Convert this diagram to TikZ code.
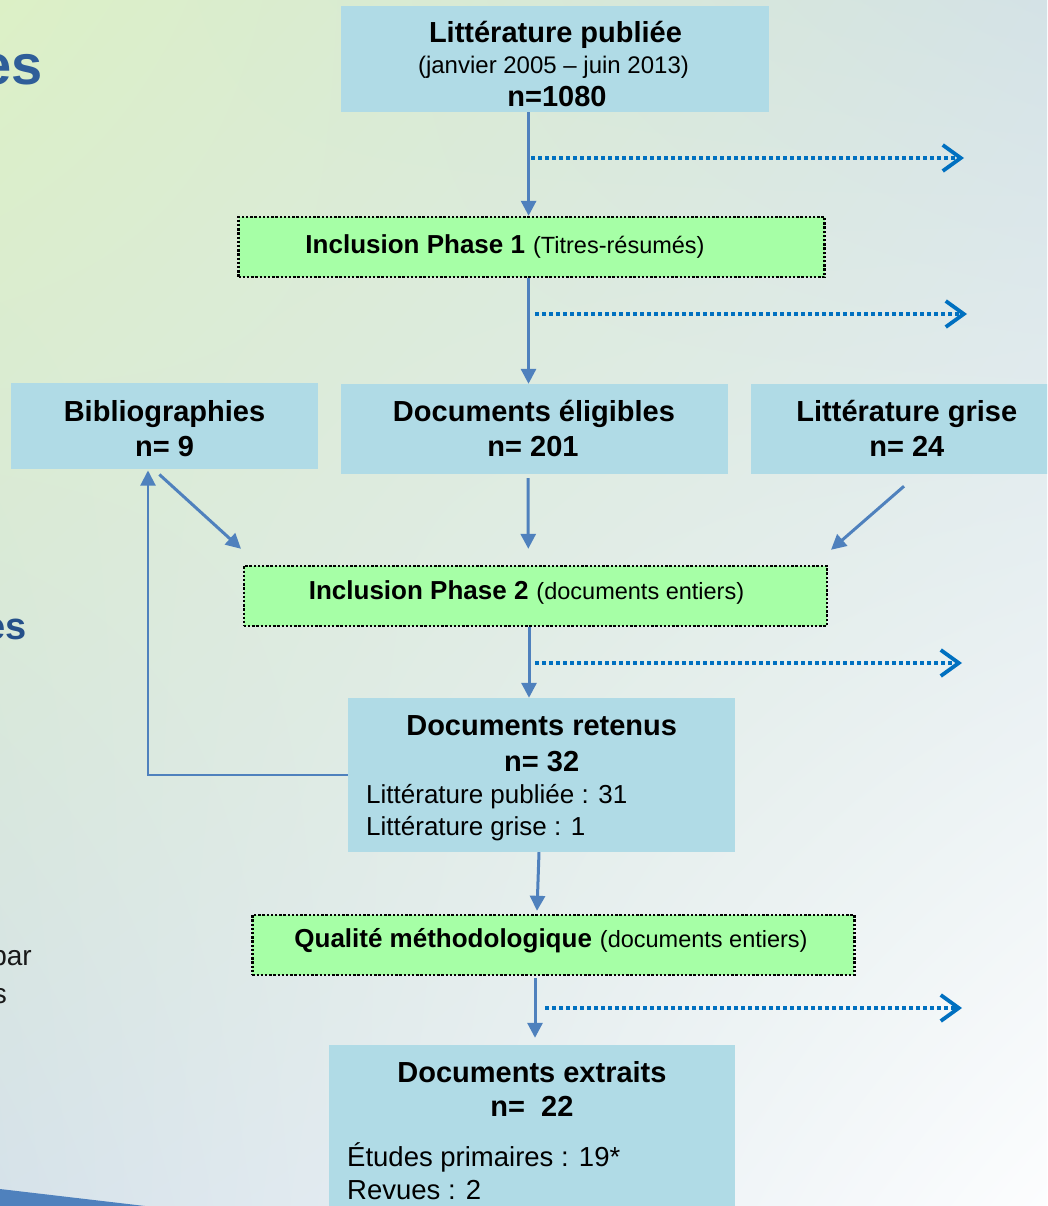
\documentclass[tikz,border=0pt]{standalone}
\usepackage{fontspec}
\setmainfont{Liberation Sans}
\usetikzlibrary{arrows.meta,shadings}
\definecolor{boxblue}{RGB}{176,219,230}
\definecolor{boxgreen}{RGB}{166,255,166}
\definecolor{arrblue}{RGB}{79,129,189}
\definecolor{dotblue}{RGB}{0,112,192}
\definecolor{titleblue}{RGB}{47,94,153}
\definecolor{titleblueb}{RGB}{37,80,138}
\definecolor{bgUL}{RGB}{220,240,198}
\definecolor{bgUR}{RGB}{212,226,230}
\definecolor{bgLL}{RGB}{214,226,234}
\definecolor{bgLR}{RGB}{252,253,254}
\tikzset{
  bluebox/.style={fill=boxblue, draw=none, inner sep=0pt, rectangle},
  greenbox/.style={fill=boxgreen, draw=black, line width=2.4pt, dash pattern=on 2.4pt off 1.8pt, inner sep=0pt, rectangle},
  bigb/.style={font=\fontsize{29}{34}\selectfont\bfseries, inner sep=0pt, anchor=base},
  small/.style={font=\fontsize{24}{28}\selectfont, inner sep=0pt, anchor=base},
  body/.style={font=\fontsize{26}{31}\selectfont, inner sep=0pt, anchor=base west},
  flow/.style={draw=arrblue, line width=3pt, -{Triangle[length=15pt,width=15pt]}},
  back/.style={draw=arrblue, line width=2pt, -{Triangle[length=15pt,width=15pt]}},
  excl/.style={draw=dotblue, line width=3.8pt, dash pattern=on 4.3pt off 2.7pt,
    -{Straight Barb[length=18pt,width=26pt,line width=3.8pt]}},
}
\newcommand{\phb}{\fontsize{26}{31}\selectfont\bfseries}
\newcommand{\phs}{\fontsize{23.5}{28}\selectfont\mdseries}
\begin{document}
\begin{tikzpicture}[x=1pt,y=-1pt]
\useasboundingbox (0,0) rectangle (1047,1206);
\clip (0,0) rectangle (1047,1206);
% background
\shade[upper left=bgUL, upper right=bgUR, lower left=bgLL, lower right=bgLR] (0,0) rectangle (1047,1206);
\fill[arrblue] (0,1189) -- (145,1206) -- (0,1206) -- cycle;
% cut-off left texts
\node[font=\fontsize{56}{60}\selectfont\bfseries, text=titleblue, inner sep=0pt, anchor=base east] (t1) at (43,85) {es};
\node[font=\fontsize{38}{42}\selectfont\bfseries, text=titleblueb, inner sep=0pt, anchor=base east] (t2) at (27,639) {es};
\node[font=\fontsize{28}{32}\selectfont, text=black!90, inner sep=0pt, anchor=base east] (t3) at (32,965) {par};
\node[font=\fontsize{28}{32}\selectfont, text=black!90, inner sep=0pt, anchor=base east] (t4) at (7,1003) {s};
% boxes
\node[bluebox, minimum width=428, minimum height=106] (lp) at (555,59) {};
\node[greenbox, minimum width=586, minimum height=60] (ph1) at (531.5,247) {};
\node[bluebox, minimum width=307, minimum height=86] (bib) at (164.4,426) {};
\node[bluebox, minimum width=387, minimum height=90] (de) at (534,429) {};
\node[bluebox, minimum width=311, minimum height=90] (lg) at (906.5,429) {};
\node[greenbox, minimum width=583, minimum height=60] (ph2) at (535.3,596) {};
\node[bluebox, minimum width=387, minimum height=154] (dr) at (541.5,775) {};
\node[greenbox, minimum width=602, minimum height=60] (qm) at (553.3,945) {};
\node[bluebox, minimum width=406, minimum height=170] (dx) at (532,1130) {};
% texts
\node[bigb] (lpa) at (555.5,43) {Littérature publiée};
\node[small] (lpb) at (553.5,74) {(janvier 2005 – juin 2013)};
\node[bigb] (lpc) at (557,107) {n=1080};
\node[inner sep=0pt, anchor=base] (ph1t) at (505,253) {{\phb Inclusion Phase 1}\hspace{8pt}{\phs (Titres-résumés)}};
\node[bigb] (biba) at (164.5,421.7) {Bibliographies};
\node[bigb] (bibb) at (164.5,456.7) {n= 9};
\node[bigb] (dea) at (534,421.7) {Documents éligibles};
\node[bigb] (deb) at (533,456.7) {n= 201};
\node[bigb] (lga) at (906.8,421.7) {Littérature grise};
\node[bigb] (lgb) at (906.8,456.7) {n= 24};
\node[inner sep=0pt, anchor=base] (ph2t) at (526.5,599) {{\phb Inclusion Phase 2}\hspace{8pt}{\phs (documents entiers)}};
\node[bigb] (dra) at (541.7,735.5) {Documents retenus};
\node[bigb] (drb) at (541.7,771) {n= 32};
\node[body] (drc) at (366,803) {Littérature publiée : 31};
\node[body] (drd) at (366,835.7) {Littérature grise : 1};
\node[inner sep=0pt, anchor=base] (qmt) at (551,947) {{\phb Qualité méthodologique}\hspace{8pt}{\phs (documents entiers)}};
\node[bigb] (dxa) at (532,1082.7) {Documents extraits};
\node[bigb] (dxb) at (532,1116.7) {n=~~22};
\node[body, font=\fontsize{27.5}{32}\selectfont] (dxc) at (347,1166) {Études primaires : 19*};
\node[body, font=\fontsize{27.5}{32}\selectfont] (dxd) at (347,1199) {Revues : 2};
% flow arrows
\draw[flow] ([xshift=-26.4]lp.south) -- ([xshift=-26.4]lp.south |- ph1.north);
\draw[flow] ([xshift=-3]ph1.south) -- ([xshift=-5.5]de.north);
\draw[flow] ([xshift=-6,yshift=-4]de.south) -- ([xshift=-7,yshift=16]ph2.north);
\draw[flow] ([xshift=-5,yshift=-5.3]bib.south) -- ([xshift=-1.6,yshift=16]ph2.north west);
\draw[flow] ([xshift=-2.5,yshift=-12]lg.south) -- ([xshift=3,yshift=15]ph2.north east);
\draw[flow] ([xshift=-6.3]ph2.south) -- ([xshift=-12.5]dr.north);
\draw[flow] ([xshift=-2.5]dr.south) -- ([xshift=-16.3,yshift=3]qm.north);
\draw[flow] ([xshift=-18.3,yshift=-2]qm.south) -- ([xshift=3,yshift=7]dx.north);
\draw[back] (dr.west) -| ([xshift=-16.4,yshift=-1.3]bib.south);
% exclusion arrows
\coordinate (e1s) at (531,158); \coordinate (e1e) at (964,158);
\coordinate (e2s) at (535,314); \coordinate (e2e) at (967,314);
\coordinate (e3s) at (535,663); \coordinate (e3e) at (962,663);
\coordinate (e4s) at (545,1008); \coordinate (e4e) at (962,1008);
\draw[excl] (e1s) -- (e1e);
\draw[excl] (e2s) -- (e2e);
\draw[excl] (e3s) -- (e3e);
\draw[excl] (e4s) -- (e4e);
\end{tikzpicture}
\end{document}
